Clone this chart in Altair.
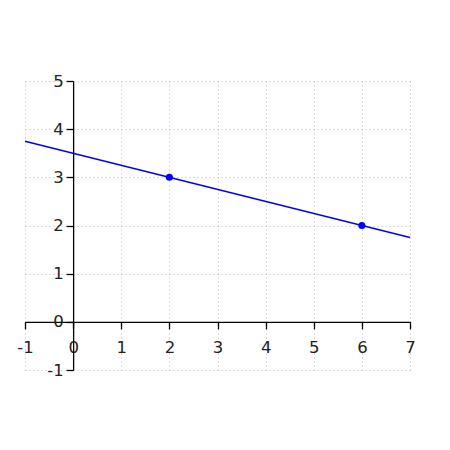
import altair as alt
import pandas as pd

line_x = [-1, 7]
line_y = [3.75, 1.75]
pts_x = [2, 6]
pts_y = [3, 2]
x_ticks = [-1, 0, 1, 2, 3, 4, 5, 6, 7]
y_ticks = [-1, 0, 1, 2, 3, 4, 5]

W, H = 385, 289
line_df = pd.DataFrame({"x": line_x, "y": line_y})
pts_df = pd.DataFrame({"x": pts_x, "y": pts_y})

xs = alt.Scale(domain=[-1, 7], nice=False, zero=False)
ys = alt.Scale(domain=[-1, 5], nice=False, zero=False)

lab = dict(labelFont="DejaVu Sans", labelFontSize=16.5, labelColor="#222",
           labelExpr="'' + datum.value")

grid = alt.Chart(line_df).mark_line(opacity=0).encode(
    x=alt.X("x:Q", scale=xs, title=None,
            axis=alt.Axis(orient="top", values=x_ticks, grid=True, labels=False, ticks=False, domain=False,
                          gridColor="#bbbbbb", gridDash=[1, 3], gridWidth=1)),
    y=alt.Y("y:Q", scale=ys, title=None,
            axis=alt.Axis(orient="right", values=y_ticks, grid=True, labels=False, ticks=False, domain=False,
                          gridColor="#bbbbbb", gridDash=[1, 3], gridWidth=1)),
)

line = alt.Chart(line_df).mark_line(color="#0000ff", strokeWidth=1.4).encode(
    x=alt.X("x:Q", scale=xs, title=None,
            axis=alt.Axis(orient="bottom", values=x_ticks, grid=False, offset=-H / 6,
                          domainColor="#000", tickColor="#000", tickSize=7, labelPadding=11,
                          domainWidth=1.3, tickWidth=1.3, labelOverlap=False, labelFlush=False, **lab)),
    y=alt.Y("y:Q", scale=ys, title=None,
            axis=alt.Axis(orient="left", values=y_ticks, grid=False, offset=-W / 8,
                          domainColor="#000", tickColor="#000", tickSize=7, labelPadding=3,
                          domainWidth=1.3, tickWidth=1.3, labelOverlap=False, labelFlush=False, **lab)),
)

pts = alt.Chart(pts_df).mark_point(filled=True, color="#0000ff", size=50, opacity=1).encode(
    x=alt.X("x:Q", scale=xs, axis=None), y=alt.Y("y:Q", scale=ys, axis=None)
)

chart = alt.layer(grid, line, pts).resolve_axis(x="independent", y="independent").properties(
    width=W, height=H,
    autosize=alt.AutoSizeParams(type="none"),
    padding={"left": 17, "top": 73, "right": 20, "bottom": 60},
).configure_view(stroke=None)

chart.save("out.html", embed_options={"renderer": "svg", "actions": False})
